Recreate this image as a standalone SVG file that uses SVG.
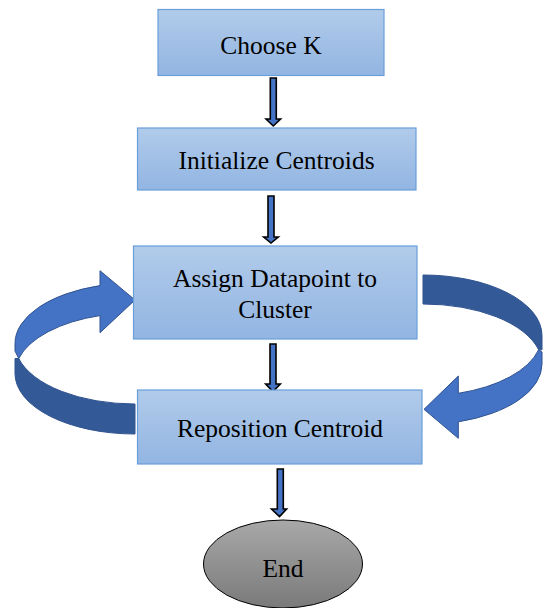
<svg xmlns="http://www.w3.org/2000/svg" width="543" height="608" viewBox="0 0 543 608">
<defs>
<linearGradient id="boxGrad" x1="0" y1="0" x2="0" y2="1">
<stop offset="0" stop-color="#B1CBEA"/>
<stop offset="1" stop-color="#92B5E2"/>
</linearGradient>
<linearGradient id="endGrad" x1="0" y1="0" x2="0" y2="1">
<stop offset="0" stop-color="#A8A8A8"/>
<stop offset="1" stop-color="#7A7A7A"/>
</linearGradient>
</defs>
<style>
.box{fill:url(#boxGrad);stroke:#6A9FDA;stroke-width:1.2}
.lbl{font-size:25.5px;fill:#000;text-anchor:middle}
.down{fill:#4472C4;stroke:#000;stroke-width:1.6;stroke-linejoin:miter}
.front{fill:#4472C4;stroke:#2F528F;stroke-width:1}
.back{fill:#335A97;stroke:#2F528F;stroke-width:1}
</style>
<rect width="543" height="608" fill="#fff"/>

<g id="connectors">
<path class="down" d="M270.3 78 L276.3 78 L276.3 119 L280.6 119 L273.3 126 L266 119 L270.3 119 Z"/>
<path class="down" d="M268 196 L274 196 L274 237 L278.3 237 L271 243 L263.7 237 L268 237 Z"/>
<path class="down" d="M270 344 L276 344 L276 384 L280.3 384 L273 391.5 L265.7 384 L270 384 Z"/>
<path class="down" d="M277.3 469 L283.3 469 L283.3 509 L286.6 509 L279.5 516.5 L271.5 509 L277.3 509 Z"/>
<g id="loop-left">
<path class="back" d="M18.75 358.5 A120 60.5 0 0 0 135 404 L135 434 A120 60.5 0 0 1 15 373.5 L15 358.5 Z"/>
<path class="front" d="M15 343.5 A120 60.5 0 0 1 100 285.6 L100 270.7 L135 300 L100 332.7 L100 315.6 A120 60.5 0 0 0 18.75 358.5 L15 351 Z"/>
</g>
<g id="loop-right">
<path class="back" d="M423 275 A119 60.5 0 0 1 542 335.5 L542 349.75 L538.65 349.75 A119 60.5 0 0 0 423 304 Z"/>
<path class="front" d="M538.65 349.75 A119 60.5 0 0 1 458.3 393.3 L458.3 376 L424 409.3 L458.3 438.3 L458.3 421.8 A119 60.5 0 0 0 542 364 L542 352 Z"/>
</g>
</g>

<g font-family="'Liberation Serif', 'Times New Roman', 'DejaVu Serif', serif">
<g id="choose-k">
<rect class="box" x="158" y="9.5" width="226" height="66"/>
<text class="lbl" x="271" y="53.5" font-family="Liberation Serif, serif">Choose K</text>
</g>
<g id="initialize-centroids">
<rect class="box" x="137.5" y="128" width="278.5" height="62"/>
<text class="lbl" x="276.5" y="169" font-family="Liberation Serif, serif">Initialize Centroids</text>
</g>
<g id="assign-datapoint">
<rect class="box" x="133.5" y="246" width="283.5" height="93"/>
<text class="lbl" x="275" y="287" font-family="Liberation Serif, serif">Assign Datapoint to</text>
<text class="lbl" x="275" y="318" font-family="Liberation Serif, serif">Cluster</text>
</g>
<g id="reposition-centroid">
<rect class="box" x="137.5" y="390" width="284.5" height="74"/>
<text class="lbl" x="280" y="436.5" font-family="Liberation Serif, serif">Reposition Centroid</text>
</g>
<g id="end">
<ellipse cx="283" cy="564" rx="79.5" ry="44" fill="url(#endGrad)" stroke="#000" stroke-width="1"/>
<text class="lbl" x="283" y="577" font-family="Liberation Serif, serif">End</text>
</g>
</g>
</svg>
